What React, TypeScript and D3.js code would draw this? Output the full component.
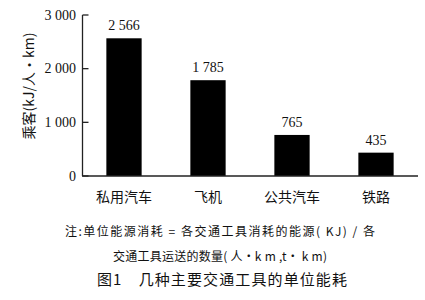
import React from "react";
import * as d3 from "d3";

const categories = ["私用汽车", "飞机", "公共汽车", "铁路"];
const values = [2566, 1785, 765, 435];
const valueLabels = ["2 566", "1 785", "765", "435"];
const yTicks = [0, 1000, 2000, 3000];
const yTickLabels = ["0", "1 000", "2 000", "3 000"];
const yTitle = "乘客(kJ/人・km)";
const note1 = "注:单位能源消耗 = 各交通工具消耗的能源( KJ) / 各";
const note2 = "交通工具运送的数量( 人•k m ,t• k m)";
const caption = "图1　几种主要交通工具的单位能耗";

const W = 425;
const H = 300;
const serif = "'Liberation Serif', 'DejaVu Serif', serif";
const cjk = "'Noto Sans CJK SC', 'Noto Sans', sans-serif";

export default function App() {
  const x = d3
    .scaleBand<string>()
    .domain(categories)
    .range([82, 418])
    .paddingInner(0.58)
    .paddingOuter(0.29);
  const y = d3.scaleLinear().domain([0, 3000]).range([176, 15]);
  const axisColor = "#222";

  return (
    <svg
      width={W}
      height={H}
      style={{ position: "absolute", left: 0, top: 0, background: "#fff" }}
    >
      <rect x={0} y={0} width={W} height={H} fill="#fff" />
      {/* bars */}
      {categories.map((c, i) => (
        <g key={c}>
          <rect
            x={x(c)!}
            y={y(values[i])}
            width={x.bandwidth()}
            height={y(0) - y(values[i])}
            fill="#000"
          />
          <text
            x={x(c)! + x.bandwidth() / 2}
            y={y(values[i]) - 8}
            textAnchor="middle"
            fontFamily={serif}
            fontSize={14}
            fill="#111"
          >
            {valueLabels[i]}
          </text>
          <text
            x={x(c)! + x.bandwidth() / 2}
            y={196}
            textAnchor="middle"
            dominantBaseline="central"
            fontFamily={cjk}
            fontSize={14}
            fill="#111"
          >
            {c}
          </text>
        </g>
      ))}
      {/* y axis */}
      <line x1={82.5} x2={82.5} y1={y(3000)} y2={y(0)} stroke={axisColor} strokeWidth={1.3} />
      {yTicks.map((t, i) => (
        <g key={t}>
          <line x1={82.5} x2={88.5} y1={y(t)} y2={y(t)} stroke={axisColor} strokeWidth={1.3} />
          <text
            x={76}
            y={y(t)}
            textAnchor="end"
            dominantBaseline="central"
            fontFamily={serif}
            fontSize={14}
            fill="#111"
          >
            {yTickLabels[i]}
          </text>
        </g>
      ))}
      {/* x axis */}
      <line x1={82} x2={418} y1={y(0)} y2={y(0)} stroke={axisColor} strokeWidth={1.3} />
      {/* y title */}
      <text
        transform="translate(28,86) rotate(-90)"
        textAnchor="middle"
        dominantBaseline="central"
        fontFamily={cjk}
        fontSize={14}
        fill="#111"
      >
        {yTitle}
      </text>
      {/* notes */}
      <text
        x={65}
        y={230}
        dominantBaseline="central"
        fontFamily={cjk}
        fontSize={12}
        textLength={310}
        lengthAdjust="spacing"
        fill="#111"
      >
        {note1}
      </text>
      <text
        x={113}
        y={255}
        dominantBaseline="central"
        fontFamily={cjk}
        fontSize={12}
        textLength={214}
        lengthAdjust="spacing"
        fill="#111"
      >
        {note2}
      </text>
      <text
        x={97}
        y={278}
        dominantBaseline="central"
        fontFamily={cjk}
        fontSize={15}
        textLength={250}
        lengthAdjust="spacing"
        fill="#111"
      >
        {caption}
      </text>
    </svg>
  );
}
